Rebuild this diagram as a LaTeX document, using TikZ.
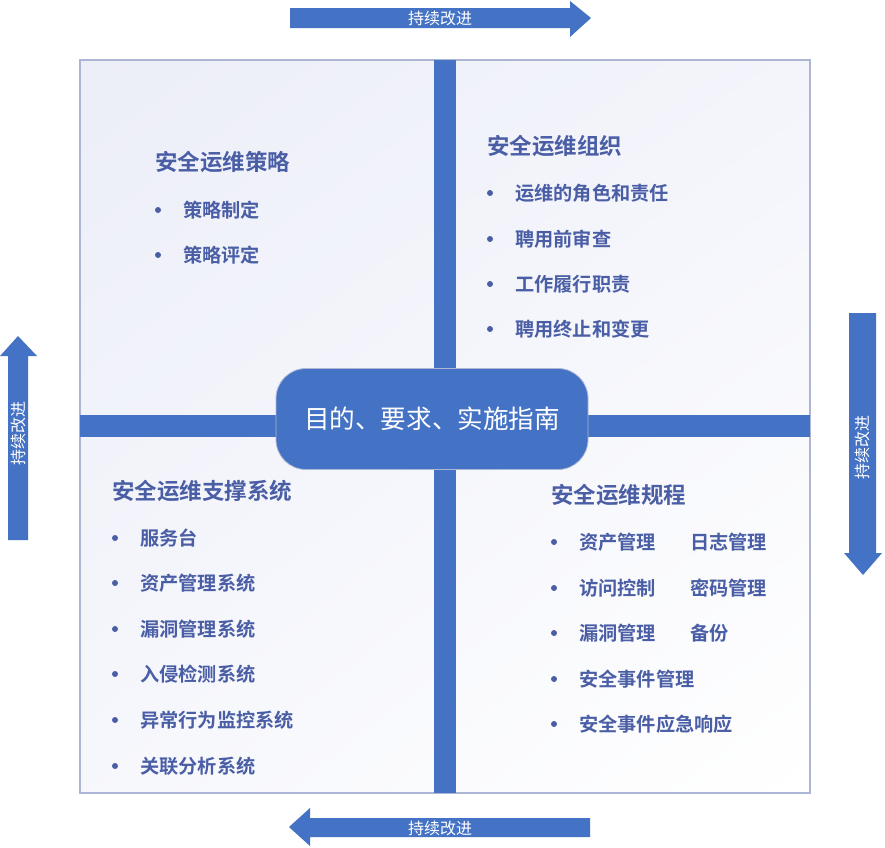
\documentclass[tikz,border=0pt]{standalone}
\usepackage{fontspec}
\setmainfont{Noto Sans CJK SC}[BoldFont={Noto Sans CJK SC Bold}]
\usetikzlibrary{shadings}
\definecolor{barblue}{HTML}{4472C4}
\definecolor{txtblue}{HTML}{4A5EA6}
\definecolor{frameline}{HTML}{AEB6D6}
\definecolor{bgtl}{HTML}{ECEEF8}
\tikzset{
  bar/.style={fill=barblue, draw=none},
  arrowshape/.style={fill=barblue, draw=none},
  arrowtext/.style={text=white, font=\fontsize{16}{16}\selectfont, inner sep=0pt},
  heading/.style={anchor=west, text=txtblue, font=\fontsize{22.5}{22.5}\selectfont\bfseries, inner sep=0pt},
  item/.style={anchor=west, text=txtblue, font=\fontsize{19.2}{19.2}\selectfont\bfseries, inner sep=0pt},
  dotmark/.style={circle, fill=txtblue, inner sep=0pt, minimum size=6pt},
  centerbox/.style={rounded corners=30pt, fill=barblue, draw=frameline, line width=0.8pt, text=white,
    minimum width=312pt, minimum height=101pt, font=\fontsize{25.6}{25.6}\selectfont}
}
\begin{document}
\begin{tikzpicture}[x=1pt,y=-1pt]
\useasboundingbox (0,0) rectangle (885,847);
\fill[white] (0,0) rectangle (885,847);
% frame
\shade[upper left=bgtl, upper right=bgtl!60!white, lower left=bgtl!45!white, lower right=white] (80,60) rectangle (810,793);
\draw[frameline, line width=1.5pt] (80,60) rectangle (810,793);
% cross bars
\fill[bar] (434,60) rectangle (456,793);
\fill[bar] (80,415) rectangle (810,437);
% center box
\node[centerbox] (center) at (432,419) {目的、要求、实施指南};
% top arrow
\fill[arrowshape] (290,8) -- (570,8) -- (570,1) -- (591,18) -- (570,37) -- (570,28) -- (290,28) -- cycle;
\node[arrowtext] (ttop) at (440,18) {持续改进};
% bottom arrow
\fill[arrowshape] (590,818) -- (310,818) -- (310,808) -- (289,827) -- (310,846) -- (310,837) -- (590,837) -- cycle;
\node[arrowtext] (tbottom) at (440,828) {持续改进};
% left arrow (up)
\fill[arrowshape] (8,540) -- (8,356) -- (0,356) -- (18,336) -- (37,356) -- (28,356) -- (28,540) -- cycle;
\node[arrowtext, rotate=90] (tleft) at (18,433) {持续改进};
% right arrow (down)
\fill[arrowshape] (849,313) -- (849,553) -- (844,553) -- (863,575) -- (882,553) -- (876,553) -- (876,313) -- cycle;
\node[arrowtext, rotate=90] (tright) at (862,447) {持续改进};
% top-left quadrant
\node[heading] (h1) at (155,162) {安全运维策略};
\node[dotmark] (d11) at (158,210) {}; \node[item] (i11) at (183,210) {策略制定};
\node[dotmark] (d12) at (158,255) {}; \node[item] (i12) at (183,255) {策略评定};
% top-right quadrant
\node[heading] (h2) at (487,146) {安全运维组织};
\node[dotmark] (d21) at (490,193) {}; \node[item] (i21) at (515,193) {运维的角色和责任};
\node[dotmark] (d22) at (490,239) {}; \node[item] (i22) at (515,239) {聘用前审查};
\node[dotmark] (d23) at (490,284) {}; \node[item] (i23) at (515,284) {工作履行职责};
\node[dotmark] (d24) at (490,329) {}; \node[item] (i24) at (515,329) {聘用终止和变更};
% bottom-left quadrant
\node[heading] (h3) at (112,491) {安全运维支撑系统};
\node[dotmark] (d31) at (115,538) {}; \node[item] (i31) at (140,538) {服务台};
\node[dotmark] (d32) at (115,583) {}; \node[item] (i32) at (140,583) {资产管理系统};
\node[dotmark] (d33) at (115,629) {}; \node[item] (i33) at (140,629) {漏洞管理系统};
\node[dotmark] (d34) at (115,674) {}; \node[item] (i34) at (140,674) {入侵检测系统};
\node[dotmark] (d35) at (115,720) {}; \node[item] (i35) at (140,720) {异常行为监控系统};
\node[dotmark] (d36) at (115,766) {}; \node[item] (i36) at (140,766) {关联分析系统};
% bottom-right quadrant
\node[heading] (h4) at (551,495) {安全运维规程};
\node[dotmark] (d41) at (554,542) {}; \node[item] (i41) at (579,542) {资产管理}; \node[item] (j41) at (690,542) {日志管理};
\node[dotmark] (d42) at (554,588) {}; \node[item] (i42) at (579,588) {访问控制}; \node[item] (j42) at (690,588) {密码管理};
\node[dotmark] (d43) at (554,633) {}; \node[item] (i43) at (579,633) {漏洞管理}; \node[item] (j43) at (690,633) {备份};
\node[dotmark] (d44) at (554,679) {}; \node[item] (i44) at (579,679) {安全事件管理};
\node[dotmark] (d45) at (554,724) {}; \node[item] (i45) at (579,724) {安全事件应急响应};
\end{tikzpicture}
\end{document}
